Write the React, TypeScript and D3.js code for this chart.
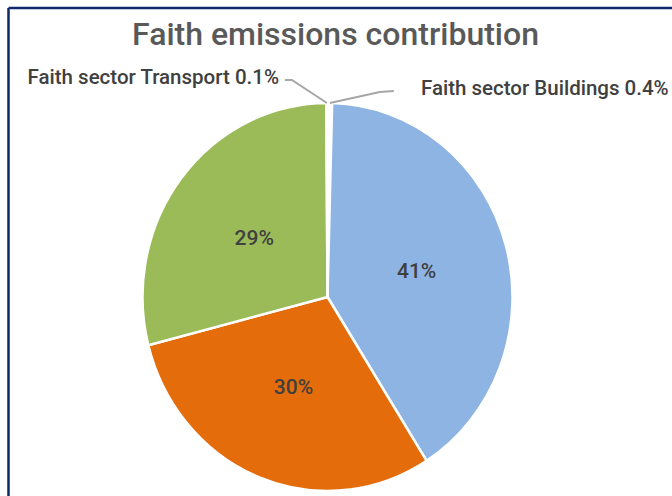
import React from "react";
import * as d3 from "d3";

const categories = [
  "Faith sector Buildings",
  "Faith sector Energy",
  "Faith sector Other",
  "Faith sector Waste",
  "Faith sector Transport",
];
const values = [0.4, 40.6, 30.0, 28.9, 0.1];
const colors = ["#FFFFFF", "#8EB4E3", "#E46C0A", "#9BBB59", "#FFFFFF"];
const title = "Faith emissions contribution";

const W = 672;
const H = 496;
const cx = 327.5;
const cy = 297;
const R = 194;
const sx = 185 / 194;

export default function App() {
  const pie = d3
    .pie<number>()
    .sort(null)
    .value((d) => d)
    .startAngle(0)
    .endAngle(2 * Math.PI);
  const arcs = pie(values);
  const arc = d3.arc<d3.PieArcDatum<number>>().innerRadius(0).outerRadius(R);
  const outer = d3.arc<d3.PieArcDatum<number>>().innerRadius(R).outerRadius(R);
  const total = d3.sum(values);
  const fmt = (v: number) => {
    const p = (v / total) * 100;
    return p < 1 ? `${p.toFixed(1)}%` : `${Math.round(p)}%`;
  };

  const tp = outer.centroid(arcs[4]);
  const bp = outer.centroid(arcs[0]);
  const tX = cx + tp[0] * sx;
  const tY = cy + tp[1];
  const bX = cx + bp[0] * sx;
  const bY = cy + bp[1];

  return (
    <svg
      width={W}
      height={H}
      style={{ position: "absolute", left: 0, top: 0, background: "#fff" }}
      fontFamily="Roboto, 'Noto Sans', sans-serif"
    >
      <rect x={0} y={0} width={W} height={H} fill="#ffffff" />
      <line x1={8.5} y1={8} x2={W} y2={8} stroke="#10296B" strokeWidth={2.5} />
      <line x1={8.5} y1={8} x2={8.5} y2={H} stroke="#10296B" strokeWidth={2.5} />
      <text
        x={335.5}
        y={45}
        textAnchor="middle"
        fontSize={32}
        fontWeight={500}
        fill="#595959"
      >
        {title}
      </text>
      <g transform={`translate(${cx},${cy}) scale(${sx},1)`}>
        {arcs.map((a, i) => (
          <path
            key={i}
            d={arc(a) || ""}
            fill={colors[i]}
            stroke="#ffffff"
            strokeWidth={2.5}
            vectorEffect="non-scaling-stroke"
          />
        ))}
      </g>
      {arcs.map((a, i) => {
        if (values[i] / total < 0.01) return null;
        const c = arc.centroid(a);
        return (
          <text
            key={i}
            x={cx + c[0] * sx}
            y={cy + c[1]}
            textAnchor="middle"
            dominantBaseline="central"
            fontSize={21}
            fontWeight={500}
            fill="#404040"
          >
            {fmt(values[i])}
          </text>
        );
      })}
      <polyline
        points={`${tX},${tY} ${tX - 35},${tY - 23} ${tX - 42},${tY - 23}`}
        fill="none"
        stroke="#A6A6A6"
        strokeWidth={2}
      />
      <polyline
        points={`${bX},${bY} ${bX + 50},${bY - 11} ${bX + 64},${bY - 12}`}
        fill="none"
        stroke="#A6A6A6"
        strokeWidth={2}
      />
      <text x={279} y={84} textAnchor="end" fontSize={20.5} fontWeight={500} fill="#404040">
        {`${categories[4]} ${fmt(values[4])}`}
      </text>
      <text x={421} y={95} textAnchor="start" fontSize={20.5} fontWeight={500} fill="#404040">
        {`${categories[0]} ${fmt(values[0])}`}
      </text>
    </svg>
  );
}
